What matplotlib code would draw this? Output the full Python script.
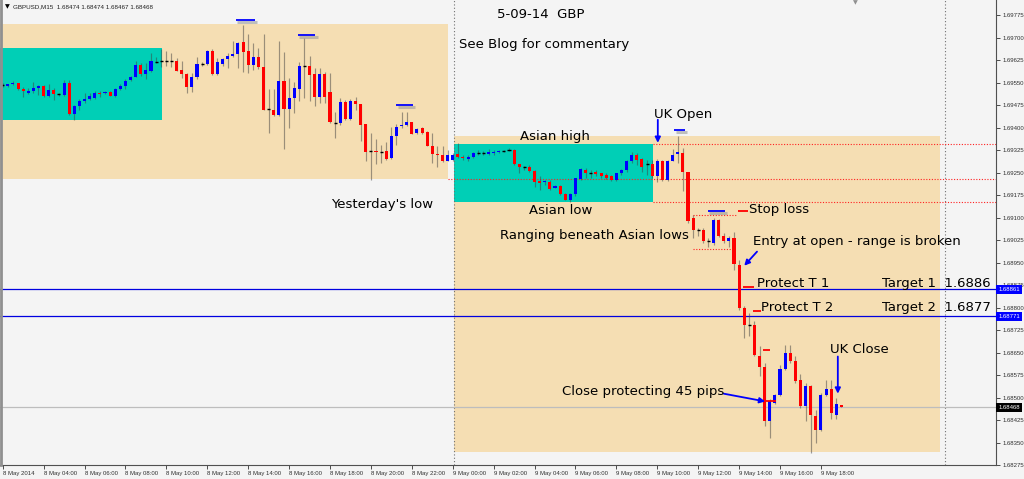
import matplotlib
matplotlib.use('Agg')
import matplotlib.pyplot as plt
from matplotlib.patches import Rectangle
import matplotlib.transforms as mtransforms

# ---------------- data (GBPUSD M15, 8 May 02:00 -> 9 May 18:30) ----------------
opens = [1.69543, 1.69540, 1.69546, 1.69549, 1.69530, 1.69518, 1.69523, 1.69532, 1.69540, 1.69507,
         1.69528, 1.69513, 1.69509, 1.69550, 1.69447, 1.69472, 1.69491, 1.69496, 1.69501, 1.69517,
         1.69516, 1.69520, 1.69506, 1.69530, 1.69541, 1.69559, 1.69571, 1.69611, 1.69579, 1.69591,
         1.69621, 1.69622, 1.69623, 1.69623, 1.69622, 1.69593, 1.69580, 1.69537, 1.69570, 1.69613,
         1.69612, 1.69657, 1.69579, 1.69612, 1.69631, 1.69641, 1.69645, 1.69685, 1.69656, 1.69610,
         1.69635, 1.69602, 1.69462, 1.69460, 1.69442, 1.69555, 1.69464, 1.69500, 1.69531, 1.69606,
         1.69606, 1.69579, 1.69504, 1.69581, 1.69519, 1.69416, 1.69416, 1.69487, 1.69429, 1.69490,
         1.69479, 1.69412, 1.69322, 1.69324, 1.69321, 1.69323, 1.69299, 1.69374, 1.69406, 1.69410,
         1.69420, 1.69382, 1.69398, 1.69386, 1.69340, 1.69312, 1.69310, 1.69290, 1.69293, 1.69313,
         1.69304, 1.69296, 1.69303, 1.69316, 1.69316, 1.69314, 1.69316, 1.69318, 1.69324, 1.69327,
         1.69327, 1.69279, 1.69268, 1.69270, 1.69257, 1.69223, 1.69218, 1.69221, 1.69201, 1.69207,
         1.69180, 1.69158, 1.69178, 1.69229, 1.69260, 1.69251, 1.69254, 1.69249, 1.69243, 1.69241,
         1.69227, 1.69249, 1.69258, 1.69288, 1.69310, 1.69296, 1.69279, 1.69279, 1.69238, 1.69290,
         1.69227, 1.69291, 1.69313, 1.69316, 1.69254, 1.69099, 1.69058, 1.69060, 1.69021, 1.69016,
         1.69093, 1.69040, 1.69021, 1.69032, 1.68943, 1.68799, 1.68743, 1.68743, 1.68640, 1.68602,
         1.68421, 1.68482, 1.68508, 1.68596, 1.68649, 1.68621, 1.68560, 1.68471, 1.68540, 1.68438,
         1.68393, 1.68510, 1.68529, 1.68443, 1.68474]
highs = [1.69549, 1.69548, 1.69556, 1.69551, 1.69538, 1.69532, 1.69552, 1.69543, 1.69542, 1.69547,
         1.69534, 1.69518, 1.69560, 1.69560, 1.69477, 1.69496, 1.69518, 1.69518, 1.69522, 1.69523,
         1.69523, 1.69523, 1.69532, 1.69546, 1.69563, 1.69573, 1.69624, 1.69618, 1.69616, 1.69649,
         1.69638, 1.69662, 1.69657, 1.69650, 1.69632, 1.69624, 1.69582, 1.69582, 1.69636, 1.69621,
         1.69660, 1.69662, 1.69632, 1.69634, 1.69649, 1.69690, 1.69688, 1.69743, 1.69712, 1.69682,
         1.69665, 1.69713, 1.69530, 1.69530, 1.69690, 1.69652, 1.69566, 1.69552, 1.69621, 1.69699,
         1.69640, 1.69599, 1.69601, 1.69588, 1.69582, 1.69452, 1.69499, 1.69493, 1.69496, 1.69503,
         1.69479, 1.69413, 1.69382, 1.69363, 1.69343, 1.69354, 1.69404, 1.69412, 1.69452, 1.69452,
         1.69420, 1.69399, 1.69403, 1.69388, 1.69382, 1.69338, 1.69338, 1.69327, 1.69316, 1.69349,
         1.69310, 1.69308, 1.69321, 1.69327, 1.69324, 1.69329, 1.69326, 1.69327, 1.69327, 1.69332,
         1.69330, 1.69280, 1.69273, 1.69277, 1.69260, 1.69238, 1.69227, 1.69227, 1.69210, 1.69209,
         1.69182, 1.69182, 1.69232, 1.69266, 1.69266, 1.69260, 1.69260, 1.69251, 1.69249, 1.69243,
         1.69251, 1.69262, 1.69293, 1.69318, 1.69316, 1.69299, 1.69293, 1.69293, 1.69296, 1.69293,
         1.69293, 1.69329, 1.69373, 1.69332, 1.69254, 1.69110, 1.69066, 1.69066, 1.69032, 1.69099,
         1.69096, 1.69049, 1.69038, 1.69054, 1.68960, 1.68804, 1.68782, 1.68754, 1.68671, 1.68616,
         1.68496, 1.68512, 1.68610, 1.68674, 1.68677, 1.68638, 1.68577, 1.68549, 1.68543, 1.68460,
         1.68516, 1.68560, 1.68560, 1.68499, 1.68474]
lows = [1.69538, 1.69538, 1.69543, 1.69527, 1.69504, 1.69513, 1.69516, 1.69511, 1.69502, 1.69504,
        1.69493, 1.69507, 1.69507, 1.69443, 1.69427, 1.69458, 1.69482, 1.69493, 1.69498, 1.69504,
        1.69513, 1.69507, 1.69504, 1.69527, 1.69530, 1.69557, 1.69569, 1.69574, 1.69563, 1.69588,
        1.69616, 1.69604, 1.69607, 1.69604, 1.69590, 1.69568, 1.69516, 1.69521, 1.69562, 1.69608,
        1.69611, 1.69577, 1.69577, 1.69608, 1.69599, 1.69638, 1.69599, 1.69588, 1.69582, 1.69593,
        1.69597, 1.69458, 1.69382, 1.69440, 1.69440, 1.69328, 1.69401, 1.69449, 1.69488, 1.69499,
        1.69488, 1.69474, 1.69482, 1.69482, 1.69416, 1.69366, 1.69410, 1.69425, 1.69426, 1.69460,
        1.69355, 1.69288, 1.69227, 1.69279, 1.69282, 1.69293, 1.69297, 1.69343, 1.69399, 1.69407,
        1.69379, 1.69379, 1.69379, 1.69338, 1.69282, 1.69268, 1.69286, 1.69288, 1.69291, 1.69299,
        1.69293, 1.69288, 1.69301, 1.69310, 1.69308, 1.69308, 1.69310, 1.69316, 1.69321, 1.69323,
        1.69277, 1.69251, 1.69260, 1.69254, 1.69202, 1.69193, 1.69210, 1.69193, 1.69199, 1.69177,
        1.69158, 1.69154, 1.69173, 1.69227, 1.69232, 1.69232, 1.69238, 1.69234, 1.69229, 1.69224,
        1.69224, 1.69243, 1.69254, 1.69282, 1.69277, 1.69254, 1.69243, 1.69232, 1.69221, 1.69224,
        1.69224, 1.69288, 1.69282, 1.69188, 1.69082, 1.69032, 1.69038, 1.69016, 1.69004, 1.69010,
        1.69036, 1.69016, 1.69004, 1.68927, 1.68793, 1.68699, 1.68704, 1.68638, 1.68571, 1.68404,
        1.68366, 1.68477, 1.68504, 1.68593, 1.68616, 1.68549, 1.68466, 1.68421, 1.68316, 1.68349,
        1.68388, 1.68504, 1.68427, 1.68427, 1.68467]
closes = [1.69542, 1.69546, 1.69551, 1.69529, 1.69524, 1.69523, 1.69532, 1.69539, 1.69507, 1.69528,
          1.69513, 1.69513, 1.69550, 1.69446, 1.69473, 1.69491, 1.69497, 1.69506, 1.69517, 1.69513,
          1.69521, 1.69508, 1.69530, 1.69540, 1.69558, 1.69570, 1.69611, 1.69579, 1.69593, 1.69622,
          1.69622, 1.69622, 1.69623, 1.69622, 1.69591, 1.69579, 1.69536, 1.69570, 1.69612, 1.69613,
          1.69656, 1.69579, 1.69620, 1.69630, 1.69641, 1.69645, 1.69683, 1.69654, 1.69610, 1.69636,
          1.69602, 1.69460, 1.69462, 1.69442, 1.69555, 1.69464, 1.69500, 1.69533, 1.69607, 1.69606,
          1.69578, 1.69504, 1.69581, 1.69504, 1.69418, 1.69416, 1.69487, 1.69429, 1.69490, 1.69479,
          1.69410, 1.69321, 1.69322, 1.69318, 1.69321, 1.69297, 1.69374, 1.69404, 1.69410, 1.69420,
          1.69381, 1.69397, 1.69383, 1.69341, 1.69312, 1.69308, 1.69290, 1.69310, 1.69310, 1.69302,
          1.69299, 1.69302, 1.69316, 1.69316, 1.69316, 1.69319, 1.69319, 1.69324, 1.69324, 1.69327,
          1.69279, 1.69269, 1.69268, 1.69257, 1.69221, 1.69217, 1.69223, 1.69197, 1.69207, 1.69179,
          1.69160, 1.69178, 1.69232, 1.69262, 1.69249, 1.69251, 1.69247, 1.69238, 1.69232, 1.69227,
          1.69249, 1.69260, 1.69288, 1.69309, 1.69293, 1.69271, 1.69279, 1.69238, 1.69290, 1.69227,
          1.69290, 1.69310, 1.69319, 1.69254, 1.69088, 1.69060, 1.69058, 1.69021, 1.69021, 1.69093,
          1.69040, 1.69021, 1.69032, 1.68947, 1.68799, 1.68743, 1.68743, 1.68643, 1.68602, 1.68421,
          1.68488, 1.68508, 1.68596, 1.68649, 1.68621, 1.68554, 1.68471, 1.68540, 1.68443, 1.68393,
          1.68510, 1.68530, 1.68449, 1.68477, 1.68468]

time_labels = ["8 May 2014", "8 May 04:00", "8 May 06:00", "8 May 08:00", "8 May 10:00",
               "8 May 12:00", "8 May 14:00", "8 May 16:00", "8 May 18:00", "8 May 20:00",
               "8 May 22:00", "9 May 00:00", "9 May 02:00", "9 May 04:00", "9 May 06:00",
               "9 May 08:00", "9 May 10:00", "9 May 12:00", "9 May 14:00", "9 May 16:00",
               "9 May 18:00"]
price_ticks = [1.69775, 1.69700, 1.69625, 1.69550, 1.69475, 1.69400, 1.69325, 1.69250,
               1.69175, 1.69100, 1.69025, 1.68950, 1.68875, 1.68800, 1.68725, 1.68650,
               1.68575, 1.68500, 1.68425, 1.68350, 1.68275]

yesterday_high, yesterday_low = 1.69746, 1.69229
asian1_high, asian1_low = 1.69667, 1.69427
today_high, today_low = 1.69373, 1.68320
asian2_high, asian2_low = 1.69347, 1.69151
target1, target2 = 1.68861, 1.68771
last_price = 1.68468
range_top, range_bottom = 1.69110, 1.68997

# ---------------- figure ----------------
BG = '#F4F4F4'
TAN = '#F5DEB3'
CYAN = '#00CFB6'
AXFONT = 'Liberation Sans'
fig = plt.figure(figsize=(10.24, 4.79), dpi=100, facecolor=BG)
ax = fig.add_axes([0, 14 / 479, 996 / 1024, 465 / 479])
ax.set_facecolor(BG)
ax.set_xlim(-0.528, 194.23)
ax.set_ylim(1.682767, 1.698267)

def rect(x0, x1, y0, y1, color, z):
    ax.add_patch(Rectangle((x0, y0), x1 - x0, y1 - y0, facecolor=color, edgecolor='none', zorder=z))

rect(-2, 87.1, yesterday_low, yesterday_high, TAN, 0.5)
rect(-2, 31.15, asian1_low, asian1_high, CYAN, 0.6)
rect(88.3, 183.3, today_low, today_high, TAN, 0.5)
rect(88.3, 127.2, asian2_low, asian2_high, CYAN, 0.6)

# separators
for xv in (88.3, 184.3):
    ax.axvline(xv, color='#707070', lw=0.8, ls=(0, (1, 2)), zorder=1)

# red dotted levels
ax.hlines([asian2_high, asian2_low], 127.2, 195, colors='#FF2020', lw=0.8, ls=(0, (1, 1.5)), zorder=1.2)
ax.hlines([yesterday_low], 87.0, 195, colors='#FF2020', lw=0.8, ls=(0, (1, 1.5)), zorder=1.2)
ax.hlines([range_top], 135.0, 143.6, colors='#FF2020', lw=0.8, ls=(0, (1, 1.5)), zorder=1.2)
ax.hlines([range_bottom], 135.0, 142.8, colors='#FF2020', lw=0.8, ls=(0, (1, 1.5)), zorder=1.2)

# target lines & price line
ax.axhline(target1, color='#0000E0', lw=0.9, zorder=1.5)
ax.axhline(target2, color='#0000E0', lw=0.9, zorder=1.5)
ax.axhline(last_price, color='#BDBDBD', lw=0.9, zorder=1.4)

# ---------------- candles ----------------
bw = 0.6
for i, (o, h, l, c) in enumerate(zip(opens, highs, lows, closes)):
    ax.vlines(i, l, h, colors='#404040', alpha=0.5, lw=0.85, zorder=2)
    if abs(c - o) < 0.000015:
        ax.hlines(o, i - bw / 2, i + bw / 2, colors='black', lw=1.0, zorder=3)
    else:
        col = '#0000FF' if c > o else '#FF0000'
        ax.add_patch(Rectangle((i - bw / 2, min(o, c)), bw, abs(c - o),
                               facecolor=col, edgecolor='none', zorder=3))

# ---------------- markers ----------------
blue_marks = [(45.6, 49.3, 1.69760), (57.7, 61.1, 1.69710), (76.9, 80.2, 1.69475),
              (131.3, 133.4, 1.69393), (137.9, 141.2, 1.69123)]
for x0, x1, yv in blue_marks:
    ax.hlines(yv - 0.00007, x0 + 0.3, x1 + 0.5, colors='#9a9a9a', lw=2.2, alpha=0.6, zorder=3.5)
    ax.hlines(yv, x0, x1, colors='#0000FF', lw=1.3, zorder=4)
red_marks = [(143.8, 145.7, 1.69123), (144.8, 146.9, 1.68868), (146.7, 148.3, 1.68788),
             (148.7, 150.0, 1.68658), (149.1, 151.2, 1.68490)]
for x0, x1, yv in red_marks:
    ax.hlines(yv, x0, x1, colors='#FF0000', lw=1.3, zorder=4)

# ---------------- arrows ----------------
arrows = [((128.1, 1.69427), (128.1, 1.69350)),
          ((147.5, 1.68987), (145.0, 1.68940)),
          ((141.0, 1.68513), (149.1, 1.68487)),
          ((163.3, 1.68637), (163.3, 1.68513))]
for (xa, ya), (xb, yb) in arrows:
    ax.annotate('', xy=(xb, yb), xytext=(xa, ya),
                arrowprops=dict(arrowstyle='-|>', color='#0000FF', lw=1.3,
                                mutation_scale=8, shrinkA=0, shrinkB=0), zorder=5)

# ---------------- texts ----------------
FS = 9.5
notes = [("5-09-14  GBP", 96.7, 1.69777), ("See Blog for commentary", 89.2, 1.69677),
         ("UK Open", 127.4, 1.69443), ("Asian high", 101.2, 1.69370),
         ("Yesterday's low", 64.2, 1.69145), ("Asian low", 102.9, 1.69123),
         ("Ranging beneath Asian lows", 97.2, 1.69040), ("Stop loss", 145.9, 1.69127),
         ("Entry at open - range is broken", 146.7, 1.69020), ("Protect T 1", 147.5, 1.68880),
         ("Target 1  1.6886", 171.9, 1.68880), ("Protect T 2", 148.3, 1.68800),
         ("Target 2  1.6877", 171.9, 1.68800), ("UK Close", 161.8, 1.68660),
         ("Close protecting 45 pips", 109.4, 1.68520)]
for s, xv, yv in notes:
    ax.text(xv, yv, s, fontsize=FS, color='black', ha='left', va='center', zorder=6,
            family='DejaVu Sans')

# ---------------- axes ----------------
for sp in ('left', 'top'):
    ax.spines[sp].set_visible(False)
for sp in ('right', 'bottom'):
    ax.spines[sp].set_color('#505050')
    ax.spines[sp].set_linewidth(0.8)
ax.yaxis.tick_right()
ax.set_yticks(price_ticks)
ax.set_yticklabels([f"{p:.5f}" for p in price_ticks])
ax.set_xticks(range(0, 8 * len(time_labels), 8))
ax.set_xticklabels(time_labels)
ax.tick_params(axis='both', labelsize=4.3, colors='#303030', length=3, width=0.6, pad=1.5)
for lbl in ax.get_xticklabels() + ax.get_yticklabels():
    lbl.set_family(AXFONT)
for lbl in ax.get_xticklabels():
    lbl.set_ha('left')

# price label boxes
ytr = mtransforms.blended_transform_factory(ax.transAxes, ax.transData)
for val, fc in ((target1, '#0000FF'), (target2, '#0000FF'), (last_price, '#000000')):
    ax.text(1.0025, val, f"{val:.5f}", transform=ytr, fontsize=4.3, color='white',
            ha='left', va='center', clip_on=False, zorder=10, family=AXFONT,
            bbox=dict(boxstyle='square,pad=0.35', facecolor=fc, edgecolor='none'))

# left border
fig.add_artist(plt.Line2D([1 / 1024, 1 / 1024], [14 / 479, 1], color='#909090', lw=2))

# header
fig.text(5 / 1024, 1 - 7 / 479, "\u25BC", fontsize=4.5, color='black', ha='left', va='center')
fig.text(13 / 1024, 1 - 7 / 479, "GBPUSD,M15  1.68474 1.68474 1.68467 1.68468", fontsize=4.5,
         color='#202020', ha='left', va='center', family=AXFONT)
fig.text(855 / 1024, 1 - 3 / 479, "\u25BC", fontsize=4.5, color='#909090', ha='center', va='center')

fig.savefig('out.png', dpi=100, facecolor=BG)
